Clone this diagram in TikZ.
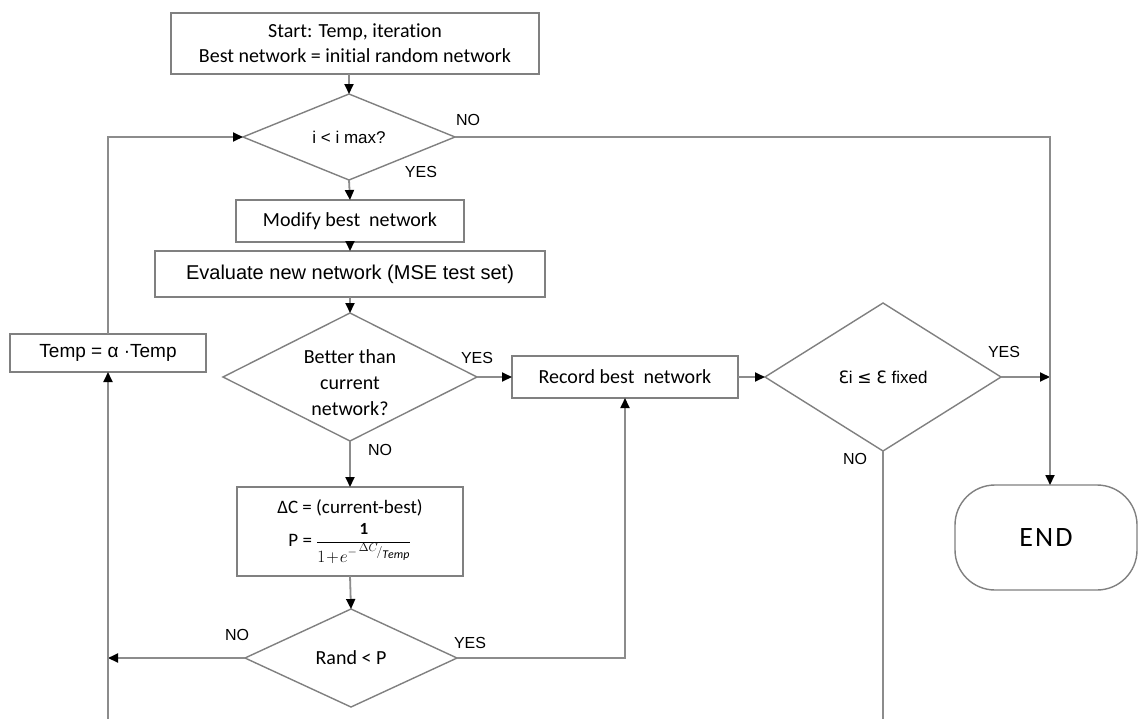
\documentclass[tikz,border=0pt]{standalone}
\usepackage{fontspec}
\setmainfont{Carlito}[Ligatures=NoCommon]
\newfontfamily\arial{Liberation Sans}
\newfontfamily\dejavu{DejaVu Sans}
\newfontfamily\endfont[LetterSpace=8,Ligatures=NoCommon]{Carlito}
\usetikzlibrary{arrows.meta,shapes.geometric}
\definecolor{boxgray}{HTML}{808080}
\definecolor{linegray}{HTML}{8C8C8C}
\begin{document}
\begin{tikzpicture}[x=1pt,y=-1pt,
  box/.style={draw=boxgray, line width=1.4pt, fill=white, inner sep=0pt, outer sep=0pt, align=center, text=black},
  dia/.style={box, diamond, shape aspect=2},
  conn/.style={draw=linegray, line width=1.8pt},
  arr/.style={conn, -{Triangle[length=10pt,width=9pt,color=black]}},
  lbl/.style={font=\arial\fontsize{16}{19}\selectfont, inner sep=0pt},
  cal/.style={font=\fontsize{20}{25}\selectfont},
  ari/.style={font=\arial\fontsize{19}{23}\selectfont}
]
\useasboundingbox (0,0) rectangle (1139,718);
\fill[white] (0,0) rectangle (1139,718);

% nodes
\node[box, cal, minimum width=368pt, minimum height=61pt] (start) at (355,43.5)
  {Start: Temp, iteration\\Best network = initial random network};
\node[dia, font=\arial\fontsize{17}{20}\selectfont, minimum width=212pt, minimum height=86pt] (d1) at (349,137) {i < i max?};
\node[box, cal, minimum width=228pt, minimum height=42pt] (modify) at (350,221) {Modify best~ network};
\node[box, font=\arial\fontsize{20}{24}\selectfont, minimum width=390pt, minimum height=46pt] (eval) at (350,274) {Evaluate new network (MSE test set)};
\node[dia, cal, minimum width=254pt, minimum height=128pt] (d2) at (350,377)
  {\raisebox{-7pt}[\height][\depth]{\begin{tabular}{@{}c@{}}Better than\\[1pt] current\\[1pt] network?\end{tabular}}};
\node[box, cal, minimum width=226pt, minimum height=42pt] (record) at (625,377) {Record best~ network};
\node[dia, font=\arial\fontsize{17}{20}\selectfont, minimum width=236pt, minimum height=148pt] (d3) at (883,377) {{\dejavu Ɛ}i {\dejavu ≤} {\dejavu Ɛ} fixed};
\node[box, rounded corners=40pt, minimum width=182pt, minimum height=105pt, font=\endfont\fontsize{28}{32}\selectfont] (end) at (1046,537.5) {END};
\node[box, font=\fontsize{19}{24}\selectfont, minimum width=226pt, minimum height=89pt] (calc) at (350,531.5)
  {ΔC = (current-best)\\[7pt]
   P = {\fontsize{17}{19}\selectfont$\displaystyle\frac{\mathbf{1}}{1\!+\!e^{-\,{}^{\scriptstyle\Delta C}\!/_{\scriptstyle\mathit{Temp}}}}$}};
\node[dia, cal, minimum width=212pt, minimum height=98pt] (d4) at (351,658) {Rand < P};
\node[box, ari, minimum width=196pt, minimum height=38pt] (temp) at (108,353) {Temp = α ·Temp};

% helper coordinates
\coordinate (ne) at (1050,137);
\coordinate (lt) at (108,137);
\coordinate (lb) at (108,722);
\coordinate (rb) at (883,722);

% connectors
\draw[arr] (start.south -| d1.north) -- (d1.north);
\draw[arr] (d1.south) -- (modify.north);
\draw[arr] (modify.south) -- (eval.north);
\draw[arr] (eval.south) -- (d2.north);
\draw[arr] (d2.east) -- (record.west);
\draw[arr] (record.east) -- (d3.west);
\draw[arr] (d3.east) -- (d3.east -| ne);
\draw[arr] (d1.east) -- (ne) -- (ne |- end.north);
\draw[conn] (d3.south) -- (rb);
\draw[arr] (d2.south) -- (calc.north);
\draw[arr] (calc.south) -- (d4.north);
\draw[arr] (d4.west) -- (d4.west -| lb);
\draw[arr] (lb) -- (temp.south);
\draw[arr] (temp.north) -- (lt) -- (d1.west);
\draw[arr] (d4.east) -- (d4.east -| record.south) -- (record.south);

% labels
\node[lbl] (l1) at (468,120) {NO};
\node[lbl] (l2) at (421,172) {YES};
\node[lbl] (l3) at (477,358) {YES};
\node[lbl] (l4) at (380,450) {NO};
\node[lbl] (l5) at (1004,352) {YES};
\node[lbl] (l6) at (855,459) {NO};
\node[lbl] (l7) at (237,635) {NO};
\node[lbl] (l8) at (470,643) {YES};
\end{tikzpicture}
\end{document}
